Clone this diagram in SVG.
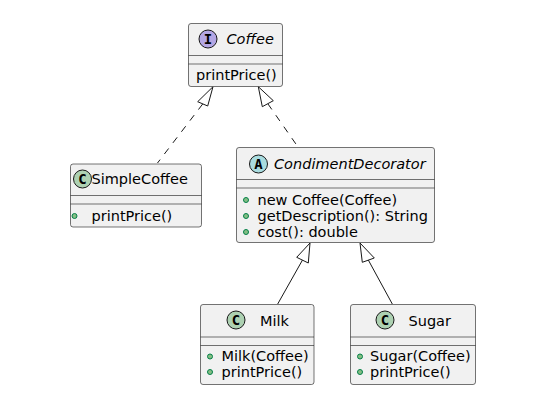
<svg xmlns="http://www.w3.org/2000/svg" width="551" height="406" viewBox="0 0 551 406">
<defs>
<style>
.box{fill:#F1F1F1;stroke:#181818;stroke-width:0.6}
.sep{stroke:#181818;stroke-width:0.6}
.t{font-family:"DejaVu Sans",sans-serif;font-size:14.5px;fill:#000}
.it{font-style:italic}
.spot{stroke:#181818;stroke-width:1}
.sl{font-family:"DejaVu Sans Mono","Liberation Mono",monospace;font-size:14px;font-weight:bold;fill:#000;text-anchor:middle}
.dot{fill:#84BE84;stroke:#038048;stroke-width:1}
.dash{fill:none;stroke:#181818;stroke-width:1;stroke-dasharray:7,7}
.solid{fill:none;stroke:#181818;stroke-width:1}
.head{fill:#FFFFFF;stroke:#181818;stroke-width:1}
</style>
</defs>
<rect width="551" height="406" fill="#FFFFFF"/>
<g id="connectors">
<path class="dash" d="M202.7,104 L157.5,163"/>
<polygon class="head" points="213,86.7 197.7,101.7 207.7,106"/>
<path class="dash" d="M267.8,103.7 L298,147"/>
<polygon class="head" points="258.3,86.7 262.3,106.7 273.3,100.7"/>
<path class="solid" d="M302.5,260 L277.7,304"/>
<polygon class="head" points="310,243 296.7,257.3 308.3,263"/>
<path class="solid" d="M368.3,260 L392.3,304"/>
<polygon class="head" points="360,243 362.3,262.3 374.3,258"/>
</g>
<g id="Coffee">
<rect class="box" x="188.5" y="23.5" width="94" height="63" rx="2.5"/>
<line class="sep" x1="188.5" y1="55.5" x2="282.5" y2="55.5"/>
<line class="sep" x1="188.5" y1="64" x2="282.5" y2="64"/>
<circle class="spot" cx="208" cy="39" r="9" fill="#B4A7E5"/>
<text class="sl" x="208" y="44">I</text>
<text class="t it" x="226.5" y="43.5">Coffee</text>
<text class="t" x="196" y="80">printPrice()</text>
</g>
<g id="SimpleCoffee">
<rect class="box" x="70.5" y="164" width="131" height="63" rx="2.5"/>
<line class="sep" x1="70.5" y1="195.5" x2="201.5" y2="195.5"/>
<line class="sep" x1="70.5" y1="204" x2="201.5" y2="204"/>
<circle class="spot" cx="82.5" cy="179" r="9" fill="#ADD1B2"/>
<text class="sl" x="82.5" y="184">C</text>
<text class="t" x="91.5" y="184">SimpleCoffee</text>
<circle class="dot" cx="74.5" cy="216" r="2.5"/>
<text class="t" x="91.5" y="220.5">printPrice()</text>
</g>
<g id="CondimentDecorator">
<rect class="box" x="236.5" y="147.5" width="198" height="95" rx="2.5"/>
<line class="sep" x1="236.5" y1="179.5" x2="434.5" y2="179.5"/>
<line class="sep" x1="236.5" y1="188" x2="434.5" y2="188"/>
<circle class="spot" cx="258.5" cy="164" r="9" fill="#A9DCDF"/>
<text class="sl" x="258.5" y="169">A</text>
<text class="t it" x="274" y="169">CondimentDecorator</text>
<circle class="dot" cx="246" cy="200" r="2.5"/>
<text class="t" x="257.5" y="204.5">new Coffee(Coffee)</text>
<circle class="dot" cx="246" cy="216" r="2.5"/>
<text class="t" x="257.5" y="220.5">getDescription(): String</text>
<circle class="dot" cx="246" cy="232" r="2.5"/>
<text class="t" x="257.5" y="236.5">cost(): double</text>
</g>
<g id="Milk">
<rect class="box" x="200.5" y="304.5" width="113.5" height="80" rx="2.5"/>
<line class="sep" x1="200.5" y1="337" x2="314" y2="337"/>
<line class="sep" x1="200.5" y1="345.5" x2="314" y2="345.5"/>
<circle class="spot" cx="236" cy="320" r="9" fill="#ADD1B2"/>
<text class="sl" x="236" y="325">C</text>
<text class="t" x="260" y="325.5">Milk</text>
<circle class="dot" cx="210" cy="356.5" r="2.5"/>
<text class="t" x="221.5" y="361">Milk(Coffee)</text>
<circle class="dot" cx="210" cy="372" r="2.5"/>
<text class="t" x="221.5" y="376.5">printPrice()</text>
</g>
<g id="Sugar">
<rect class="box" x="350.5" y="304.5" width="125" height="80" rx="2.5"/>
<line class="sep" x1="350.5" y1="337" x2="475.5" y2="337"/>
<line class="sep" x1="350.5" y1="345.5" x2="475.5" y2="345.5"/>
<circle class="spot" cx="385" cy="320" r="9" fill="#ADD1B2"/>
<text class="sl" x="385" y="325">C</text>
<text class="t" x="408.5" y="325.5">Sugar</text>
<circle class="dot" cx="360" cy="356.5" r="2.5"/>
<text class="t" x="370" y="361">Sugar(Coffee)</text>
<circle class="dot" cx="360" cy="372" r="2.5"/>
<text class="t" x="370" y="376.5">printPrice()</text>
</g>
</svg>
